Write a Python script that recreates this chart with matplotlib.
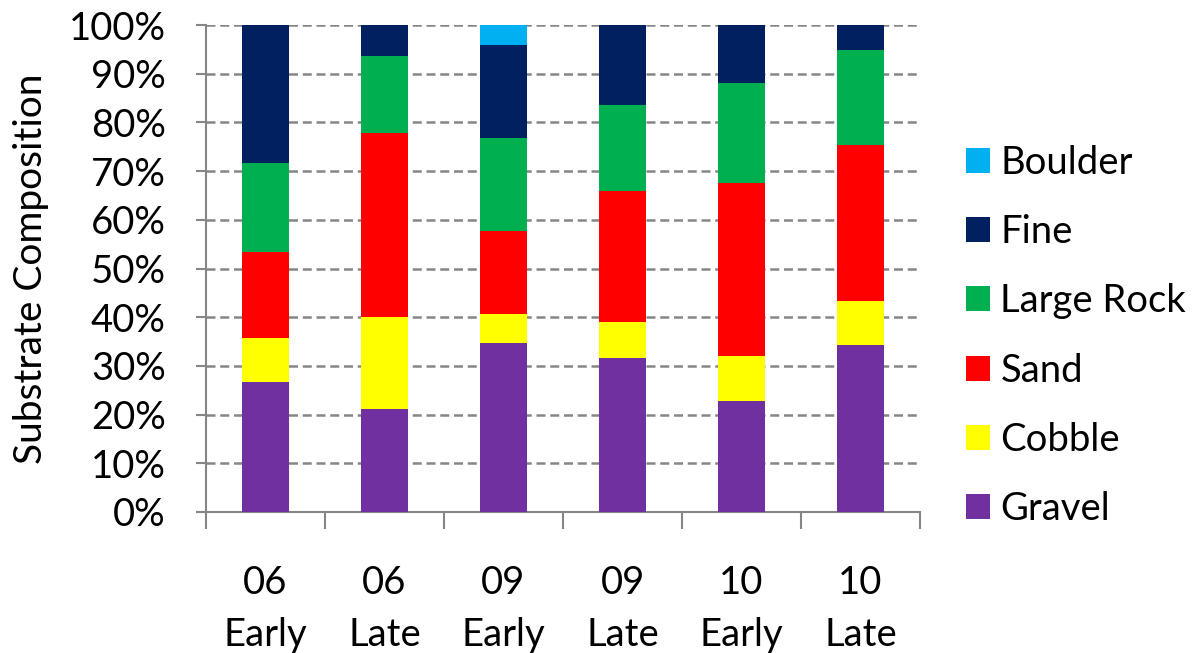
import matplotlib
matplotlib.use("Agg")
import matplotlib.pyplot as plt
import numpy as np

plt.rcParams['font.family'] = ['Lato', 'DejaVu Sans']

categories = ["06\nEarly", "06\nLate", "09\nEarly", "09\nLate", "10\nEarly", "10\nLate"]

# Substrate composition (%) per sampling period, stacked bottom to top
gravel     = [26.7, 21.1, 34.7, 31.7, 22.8, 34.3]
cobble     = [9.0, 19.0, 6.0, 7.3, 9.2, 9.0]
sand       = [17.6, 37.7, 16.9, 27.0, 35.5, 32.1]
large_rock = [18.4, 15.8, 19.1, 17.6, 20.5, 19.5]
fine       = [28.3, 6.4, 19.2, 16.4, 12.0, 5.1]
boulder    = [0.0, 0.0, 4.1, 0.0, 0.0, 0.0]

series = [
    ("Gravel", gravel, "#7030A0"),
    ("Cobble", cobble, "#FFFF00"),
    ("Sand", sand, "#FF0000"),
    ("Large Rock", large_rock, "#00B050"),
    ("Fine", fine, "#002060"),
    ("Boulder", boulder, "#00B0F0"),
]

FS = 27.5

fig = plt.figure(figsize=(11.95, 6.53), dpi=100)
ax = fig.add_axes([206 / 1195, 1 - 512 / 653, (920 - 206) / 1195, (512 - 25) / 653])

axis_gray = "#868686"
x = np.arange(len(categories))
bottom = np.zeros(len(categories))
handles = []
for name, vals, color in series:
    vals = np.array(vals)
    b = ax.bar(x, vals, 0.4, bottom=bottom, color=color, label=name, zorder=3)
    handles.append(b)
    bottom += vals

ax.set_xlim(-0.5, len(categories) - 0.5)
ax.set_ylim(0, 100)
ax.set_yticks(np.arange(0, 101, 10))
ax.set_yticklabels([f"{v}%" for v in range(0, 101, 10)], fontsize=FS)
ax.yaxis.grid(True, color=axis_gray, linestyle=(0, (3.6, 1.9)), linewidth=1.8, zorder=0)
ax.set_axisbelow(True)

ax.set_xticks(x)
ax.set_xticklabels(categories, fontsize=FS, linespacing=1.55)
ax.set_xticks(np.arange(-0.5, len(categories), 1.0), minor=True)
ax.tick_params(axis='x', which='major', length=0, pad=38)
ax.tick_params(axis='x', which='minor', length=12, width=1.5, color=axis_gray)
ax.tick_params(axis='y', length=7, width=1.5, color=axis_gray, pad=22)

for s in ("top", "right"):
    ax.spines[s].set_visible(False)
for s in ("left", "bottom"):
    ax.spines[s].set_color(axis_gray)
    ax.spines[s].set_linewidth(1.5)

ax.set_ylabel("Substrate Composition", fontsize=28, labelpad=14)

fig.legend(handles[::-1], [h.get_label() for h in handles[::-1]],
           loc="center left", bbox_to_anchor=(966 / 1195, 1 - 336 / 653),
           frameon=False, fontsize=FS, handlelength=0.63, handleheight=0.63,
           handletextpad=0.27, labelspacing=0.87, borderaxespad=0, borderpad=0)

fig.savefig("out.png", dpi=100)
